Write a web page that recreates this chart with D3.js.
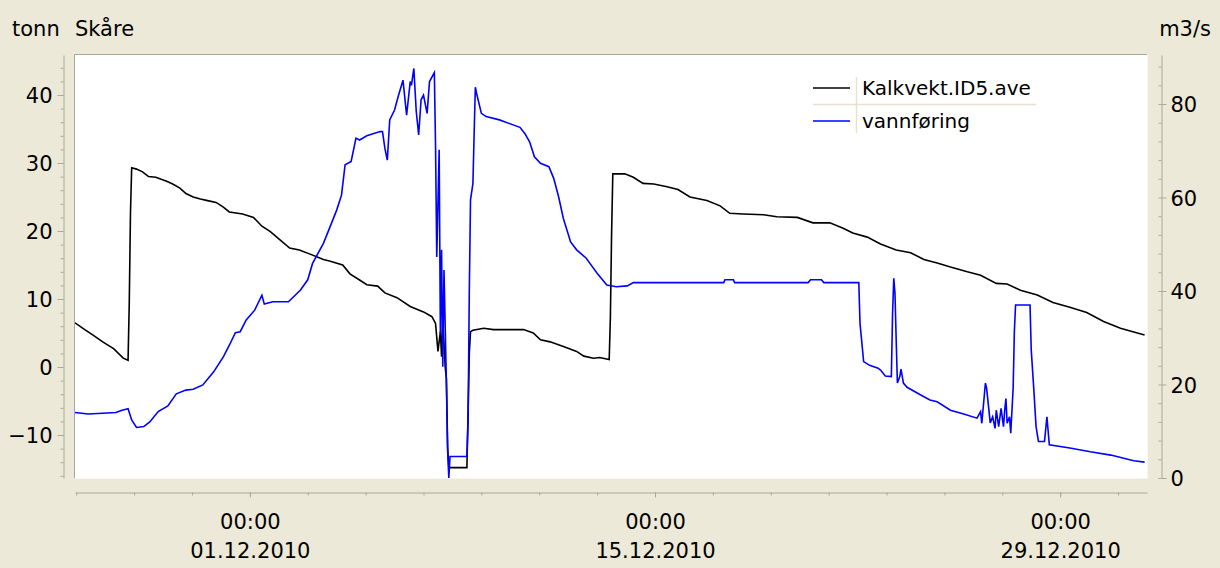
<!DOCTYPE html>
<html>
<head>
<meta charset="utf-8">
<script src="https://cdn.jsdelivr.net/npm/d3@7"></script>
<style>
  body { margin: 0; background: #ece9d8; }
  svg { display: block; }
  text { font-family: "DejaVu Sans", sans-serif; fill: #000; }
</style>
</head>
<body>
<div id="chart-area"></div>
<script>
// Kalkvekt.ID5.ave (tonn, left axis)
var kalkvekt = [
  ["24.11.2010 23:00", 6.5], ["25.11.2010 08:00", 5.4], ["25.11.2010 14:00", 4.7],
  ["25.11.2010 22:00", 3.7], ["26.11.2010 07:00", 2.7], ["26.11.2010 15:00", 1.3],
  ["26.11.2010 19:00", 1.0], ["26.11.2010 20:00", 9.4], ["26.11.2010 21:00", 22.6],
  ["26.11.2010 22:00", 29.3], ["27.11.2010 02:00", 29.1], ["27.11.2010 07:00", 28.7],
  ["27.11.2010 12:00", 28.0], ["27.11.2010 18:00", 27.9], ["28.11.2010 03:00", 27.3],
  ["28.11.2010 08:00", 26.9], ["28.11.2010 14:00", 26.3], ["28.11.2010 19:00", 25.5],
  ["29.11.2010 01:00", 25.0], ["29.11.2010 07:00", 24.7], ["29.11.2010 12:00", 24.5],
  ["29.11.2010 20:00", 24.2], ["30.11.2010 02:00", 23.5], ["30.11.2010 07:00", 22.8],
  ["30.11.2010 18:00", 22.5], ["01.12.2010 03:00", 22.0], ["01.12.2010 10:00", 20.7],
  ["01.12.2010 17:00", 19.9], ["02.12.2010 01:00", 18.7], ["02.12.2010 09:00", 17.5],
  ["02.12.2010 17:00", 17.2], ["03.12.2010 02:00", 16.6], ["03.12.2010 13:00", 15.8],
  ["03.12.2010 18:00", 15.6], ["04.12.2010 05:00", 15.0], ["04.12.2010 11:00", 13.7],
  ["04.12.2010 19:00", 12.8], ["05.12.2010 01:00", 12.1], ["05.12.2010 10:00", 11.9],
  ["05.12.2010 16:00", 10.9], ["06.12.2010 02:00", 10.2], ["06.12.2010 13:00", 8.9],
  ["07.12.2010 00:00", 8.1], ["07.12.2010 07:00", 7.4], ["07.12.2010 10:00", 6.4],
  ["07.12.2010 12:00", 2.3], ["07.12.2010 14:00", 5.2], ["07.12.2010 15:00", 1.5],
  ["07.12.2010 16:00", 6.9], ["07.12.2010 18:00", 0.0], ["07.12.2010 19:00", -1.7],
  ["07.12.2010 20:00", -11.7], ["07.12.2010 21:00", -14.7], ["07.12.2010 22:00", -14.8],
  ["08.12.2010 12:00", -14.8], ["08.12.2010 14:00", 2.0], ["08.12.2010 15:00", 5.2],
  ["08.12.2010 17:00", 5.4], ["09.12.2010 02:00", 5.7], ["09.12.2010 10:00", 5.5],
  ["10.12.2010 11:00", 5.5], ["10.12.2010 19:00", 5.0], ["11.12.2010 01:00", 4.0],
  ["11.12.2010 09:00", 3.7], ["11.12.2010 20:00", 3.0], ["12.12.2010 07:00", 2.3],
  ["12.12.2010 13:00", 1.6], ["12.12.2010 21:00", 1.3], ["13.12.2010 02:00", 1.4],
  ["13.12.2010 10:00", 1.1], ["13.12.2010 11:00", 7.4], ["13.12.2010 12:00", 19.7],
  ["13.12.2010 13:00", 28.4], ["13.12.2010 23:00", 28.4], ["14.12.2010 06:00", 27.9],
  ["14.12.2010 14:00", 27.0], ["14.12.2010 23:00", 26.9], ["15.12.2010 10:00", 26.5],
  ["15.12.2010 19:00", 26.1], ["16.12.2010 05:00", 25.0], ["16.12.2010 19:00", 24.5],
  ["17.12.2010 06:00", 23.7], ["17.12.2010 14:00", 22.6], ["18.12.2010 01:00", 22.5],
  ["18.12.2010 18:00", 22.4], ["19.12.2010 05:00", 22.1], ["19.12.2010 22:00", 22.0],
  ["20.12.2010 11:00", 21.2], ["21.12.2010 01:00", 21.2], ["21.12.2010 12:00", 20.4],
  ["21.12.2010 20:00", 19.7], ["22.12.2010 08:00", 19.1], ["22.12.2010 19:00", 18.1],
  ["23.12.2010 08:00", 17.2], ["23.12.2010 20:00", 16.8], ["24.12.2010 07:00", 15.8],
  ["24.12.2010 18:00", 15.3], ["25.12.2010 05:00", 14.7], ["25.12.2010 19:00", 14.0],
  ["26.12.2010 06:00", 13.5], ["26.12.2010 19:00", 12.3], ["27.12.2010 04:00", 12.2],
  ["27.12.2010 15:00", 11.3], ["28.12.2010 05:00", 10.6], ["28.12.2010 18:00", 9.5],
  ["29.12.2010 08:00", 8.8], ["29.12.2010 22:00", 8.0], ["30.12.2010 12:00", 6.7],
  ["31.12.2010 02:00", 5.7], ["31.12.2010 16:00", 5.0], ["31.12.2010 22:00", 4.7]
];

// vannføring (m3/s, right axis)
var vannforing = [
  ["24.11.2010 23:00", 14.0], ["25.11.2010 10:00", 13.7], ["25.11.2010 18:00", 13.8],
  ["26.11.2010 09:00", 14.0], ["26.11.2010 14:00", 14.5], ["26.11.2010 19:00", 14.8],
  ["26.11.2010 22:00", 12.4], ["27.11.2010 02:00", 10.8], ["27.11.2010 08:00", 11.0],
  ["27.11.2010 13:00", 12.0], ["27.11.2010 20:00", 14.2], ["28.11.2010 04:00", 15.4],
  ["28.11.2010 11:00", 18.0], ["28.11.2010 19:00", 18.8], ["29.11.2010 01:00", 19.0],
  ["29.11.2010 09:00", 19.9], ["29.11.2010 18:00", 22.7], ["30.11.2010 02:00", 25.9],
  ["30.11.2010 07:00", 28.4], ["30.11.2010 12:00", 31.1], ["30.11.2010 16:00", 31.3],
  ["30.11.2010 21:00", 33.8], ["01.12.2010 04:00", 35.9], ["01.12.2010 10:00", 39.1],
  ["01.12.2010 12:00", 37.2], ["01.12.2010 19:00", 37.7], ["02.12.2010 08:00", 37.7],
  ["02.12.2010 18:00", 40.2], ["03.12.2010 00:00", 42.4], ["03.12.2010 04:00", 45.9],
  ["03.12.2010 13:00", 50.2], ["03.12.2010 18:00", 53.4], ["04.12.2010 00:00", 57.3],
  ["04.12.2010 04:00", 60.5], ["04.12.2010 07:00", 67.0], ["04.12.2010 12:00", 67.7],
  ["04.12.2010 16:00", 72.7], ["04.12.2010 19:00", 72.3], ["05.12.2010 01:00", 73.2],
  ["05.12.2010 12:00", 74.1], ["05.12.2010 14:00", 74.1], ["05.12.2010 16:00", 70.5],
  ["05.12.2010 18:00", 68.0], ["05.12.2010 20:00", 76.6], ["06.12.2010 00:00", 78.7],
  ["06.12.2010 03:00", 81.6], ["06.12.2010 07:00", 85.1], ["06.12.2010 10:00", 77.6],
  ["06.12.2010 13:00", 84.8], ["06.12.2010 14:00", 84.0], ["06.12.2010 16:00", 87.6],
  ["06.12.2010 18:00", 78.4], ["06.12.2010 20:00", 73.4], ["06.12.2010 22:00", 80.9],
  ["07.12.2010 00:00", 81.9], ["07.12.2010 03:00", 78.0], ["07.12.2010 05:00", 84.8],
  ["07.12.2010 09:00", 86.7], ["07.12.2010 10:00", 70.9], ["07.12.2010 11:00", 47.3],
  ["07.12.2010 13:00", 70.2], ["07.12.2010 14:00", 30.9], ["07.12.2010 15:00", 48.8],
  ["07.12.2010 16:00", 23.8], ["07.12.2010 17:00", 44.5], ["07.12.2010 19:00", 20.3],
  ["07.12.2010 20:00", 6.0], ["07.12.2010 21:00", 0.0], ["07.12.2010 22:00", 4.6],
  ["08.12.2010 12:00", 4.6], ["08.12.2010 13:00", 12.4], ["08.12.2010 14:00", 40.2],
  ["08.12.2010 15:00", 59.5], ["08.12.2010 17:00", 63.0], ["08.12.2010 18:00", 73.7],
  ["08.12.2010 19:00", 83.6], ["08.12.2010 20:00", 82.3], ["09.12.2010 00:00", 78.0],
  ["09.12.2010 04:00", 77.3], ["09.12.2010 15:00", 76.6], ["10.12.2010 08:00", 75.0],
  ["10.12.2010 12:00", 73.7], ["10.12.2010 16:00", 71.9], ["10.12.2010 20:00", 68.7],
  ["11.12.2010 01:00", 67.3], ["11.12.2010 08:00", 66.6], ["11.12.2010 12:00", 64.1],
  ["11.12.2010 16:00", 60.2], ["11.12.2010 20:00", 55.5], ["12.12.2010 02:00", 50.5],
  ["12.12.2010 07:00", 48.8], ["12.12.2010 15:00", 47.0], ["12.12.2010 18:00", 45.9],
  ["13.12.2010 00:00", 43.8], ["13.12.2010 08:00", 41.3], ["13.12.2010 16:00", 40.9],
  ["14.12.2010 01:00", 41.1], ["14.12.2010 06:00", 41.8], ["17.12.2010 09:00", 41.8],
  ["17.12.2010 10:00", 42.4], ["17.12.2010 17:00", 42.4], ["17.12.2010 18:00", 41.8],
  ["20.12.2010 07:00", 41.8], ["20.12.2010 09:00", 42.4], ["20.12.2010 18:00", 42.4],
  ["20.12.2010 20:00", 41.8], ["22.12.2010 01:00", 41.8], ["22.12.2010 02:00", 33.1],
  ["22.12.2010 05:00", 24.9], ["22.12.2010 10:00", 24.1], ["22.12.2010 17:00", 23.5],
  ["22.12.2010 19:00", 23.1], ["22.12.2010 23:00", 21.8], ["23.12.2010 04:00", 21.7],
  ["23.12.2010 05:00", 35.2], ["23.12.2010 06:00", 42.7], ["23.12.2010 07:00", 39.5],
  ["23.12.2010 08:00", 29.5], ["23.12.2010 09:00", 20.3], ["23.12.2010 11:00", 21.7],
  ["23.12.2010 12:00", 23.3], ["23.12.2010 14:00", 20.3], ["23.12.2010 17:00", 19.4],
  ["24.12.2010 04:00", 17.8], ["24.12.2010 12:00", 16.7], ["24.12.2010 18:00", 16.3],
  ["25.12.2010 05:00", 14.5], ["25.12.2010 16:00", 13.7], ["26.12.2010 03:00", 12.8],
  ["26.12.2010 06:00", 14.2], ["26.12.2010 07:00", 11.7], ["26.12.2010 10:00", 20.3],
  ["26.12.2010 11:00", 19.2], ["26.12.2010 14:00", 11.8], ["26.12.2010 16:00", 13.1],
  ["26.12.2010 18:00", 10.6], ["26.12.2010 19:00", 14.5], ["26.12.2010 21:00", 11.0],
  ["26.12.2010 23:00", 14.9], ["27.12.2010 01:00", 11.0], ["27.12.2010 02:00", 14.5],
  ["27.12.2010 03:00", 17.0], ["27.12.2010 04:00", 11.7], ["27.12.2010 06:00", 13.1],
  ["27.12.2010 07:00", 9.6], ["27.12.2010 09:00", 19.2], ["27.12.2010 10:00", 31.3],
  ["27.12.2010 11:00", 37.0], ["27.12.2010 23:00", 37.0], ["28.12.2010 00:00", 27.4],
  ["28.12.2010 02:00", 19.5], ["28.12.2010 04:00", 11.0], ["28.12.2010 06:00", 7.8],
  ["28.12.2010 11:00", 7.8], ["28.12.2010 13:00", 13.1], ["28.12.2010 15:00", 7.1],
  ["29.12.2010 08:00", 6.4], ["30.12.2010 01:00", 5.6], ["30.12.2010 18:00", 4.9],
  ["31.12.2010 13:00", 3.7], ["31.12.2010 22:00", 3.4]
];

// Axis ticks
var leftTicks = [-10, 0, 10, 20, 30, 40];
var rightTicks = [0, 20, 40, 60, 80];
var dateTicks = ["01.12.2010 00:00", "15.12.2010 00:00", "29.12.2010 00:00"];
var timeDomain = ["24.11.2010 23:00", "01.01.2011 00:00"];
var legendLabels = ["Kalkvekt.ID5.ave", "vannføring"];
var seriesColors = ["#000000", "#0000ff"];

var W = 1220, H = 568;
var plot = { left: 75, right: 1147, top: 55, bottom: 478 };
var axisGrey = "#aca899";

var parseTime = d3.timeParse("%d.%m.%Y %H:%M");
var fmtHour = d3.timeFormat("%H:%M");
var fmtDate = d3.timeFormat("%d.%m.%Y");

var svg = d3.select("#chart-area")
  .append("svg")
    .attr("width", W)
    .attr("height", H);

svg.append("rect")
  .attr("width", W).attr("height", H)
  .attr("fill", "#ece9d8");

// Scales
var x = d3.scaleTime()
  .domain(timeDomain.map(parseTime))
  .range([plot.left, plot.right]);
var yL = d3.scaleLinear().domain([-16.32, 45.88]).range([plot.bottom, plot.top]);
var yR = d3.scaleLinear().domain([0, 90.48]).range([plot.bottom, plot.top]);

// Plot area (sunken frame)
svg.append("rect")
  .attr("x", plot.left).attr("y", plot.top)
  .attr("width", plot.right - plot.left).attr("height", plot.bottom - plot.top)
  .attr("fill", "#fff");
svg.append("path")
  .attr("d", "M" + (plot.left - 0.5) + "," + (plot.bottom) + "V" + (plot.top - 0.5) + "H" + plot.right)
  .attr("fill", "none").attr("stroke", axisGrey);
svg.append("path")
  .attr("d", "M" + (plot.left) + "," + (plot.bottom + 0.5) + "H" + (plot.right + 0.5) + "V" + plot.top)
  .attr("fill", "none").attr("stroke", "#f7f6f0");

// Titles
svg.append("text").attr("x", 12).attr("y", 36).attr("font-size", "21px").text("tonn");
svg.append("text").attr("x", 75).attr("y", 36).attr("font-size", "21px").text("Skåre");
svg.append("text").attr("x", 1211).attr("y", 36).attr("font-size", "21px")
  .attr("text-anchor", "end").text("m3/s");

function styleAxis(g) {
  g.select(".domain").attr("stroke", axisGrey);
  g.selectAll(".tick line").attr("stroke", axisGrey);
  g.selectAll(".tick text")
    .attr("font-family", "DejaVu Sans")
    .attr("font-size", "21px")
    .attr("fill", "#000");
}

// Left axis
var leftX = 63;
svg.append("g")
  .attr("transform", "translate(" + (leftX + 0.5) + ",0)")
  .call(d3.axisLeft(yL).tickValues(d3.range(-16, 46, 2)).tickSize(3).tickFormat("").tickSizeOuter(0))
  .call(styleAxis);
svg.append("g")
  .attr("transform", "translate(" + (leftX + 0.5) + ",0)")
  .call(d3.axisLeft(yL).tickValues(leftTicks).tickSize(6).tickPadding(5).tickSizeOuter(0))
  .call(styleAxis)
  .call(g => g.select(".domain").remove())
  .call(g => g.selectAll(".tick text").attr("dy", "0.36em"));

// Right axis
var rightX = 1161;
svg.append("g")
  .attr("transform", "translate(" + (rightX + 0.5) + ",0)")
  .call(d3.axisLeft(yR).tickValues(d3.range(0, 91, 4)).tickSize(3).tickFormat("").tickSizeOuter(0))
  .call(styleAxis);
svg.append("g")
  .attr("transform", "translate(" + (rightX + 0.5) + ",0)")
  .call(d3.axisRight(yR).tickValues(rightTicks).tickSize(5).tickPadding(4).tickSizeOuter(0))
  .call(styleAxis)
  .call(g => g.select(".domain").remove())
  .call(g => g.selectAll(".tick text").attr("dy", "0.36em"));

// Bottom (time) axis
var axisY = 492;
var xDom = x.domain();
svg.append("g")
  .attr("transform", "translate(0," + (axisY + 0.5) + ")")
  .call(d3.axisBottom(x).tickValues(d3.timeDay.every(2).range(xDom[0], xDom[1])).tickSize(3).tickFormat("").tickSizeOuter(0))
  .call(styleAxis);
var xMajor = svg.append("g")
  .attr("transform", "translate(0," + (axisY + 0.5) + ")")
  .call(d3.axisBottom(x).tickValues(dateTicks.map(parseTime)).tickSize(5).tickFormat("").tickSizeOuter(0))
  .call(styleAxis)
  .call(g => g.select(".domain").remove());
xMajor.selectAll(".tick").each(function(d) {
  var t = d3.select(this);
  t.append("text").attr("y", 36).attr("text-anchor", "middle")
    .attr("font-size", "21px").attr("fill", "#000").text(fmtHour(d));
  t.append("text").attr("y", 65).attr("text-anchor", "middle")
    .attr("font-size", "21px").attr("fill", "#000").text(fmtDate(d));
});

// Series lines
svg.append("clipPath").attr("id", "plot-clip")
  .append("rect")
    .attr("x", plot.left).attr("y", plot.top)
    .attr("width", plot.right - plot.left).attr("height", plot.bottom - plot.top + 1);

var lineL = d3.line().x(d => x(parseTime(d[0]))).y(d => yL(d[1]));
var lineR = d3.line().x(d => x(parseTime(d[0]))).y(d => yR(d[1]));

var lines = svg.append("g").attr("clip-path", "url(#plot-clip)");
lines.append("path")
  .attr("d", lineL(kalkvekt))
  .attr("fill", "none").attr("stroke", seriesColors[0])
  .attr("stroke-width", 1.6).attr("stroke-linejoin", "miter");
lines.append("path")
  .attr("d", lineR(vannforing))
  .attr("fill", "none").attr("stroke", seriesColors[1])
  .attr("stroke-width", 1.6).attr("stroke-linejoin", "miter");

// Legend
var legend = svg.append("g").attr("class", "legend");
legend.append("line").attr("x1", 856.5).attr("x2", 856.5).attr("y1", 77).attr("y2", 133)
  .attr("stroke", "#e6e2cf").attr("stroke-width", 1.5);
legend.append("line").attr("x1", 813).attr("x2", 1036).attr("y1", 104.5).attr("y2", 104.5)
  .attr("stroke", "#e6e2cf").attr("stroke-width", 1.5);
legendLabels.forEach(function(label, i) {
  var ly = 88 + i * 33;
  legend.append("line").attr("x1", 813).attr("x2", 850).attr("y1", ly).attr("y2", ly)
    .attr("stroke", seriesColors[i]).attr("stroke-width", 1.6);
  legend.append("text").attr("x", 862).attr("y", ly).attr("dy", "0.36em")
    .attr("font-size", "20px").attr("fill", seriesColors[i]).text(label);
});
</script>
</body>
</html>
